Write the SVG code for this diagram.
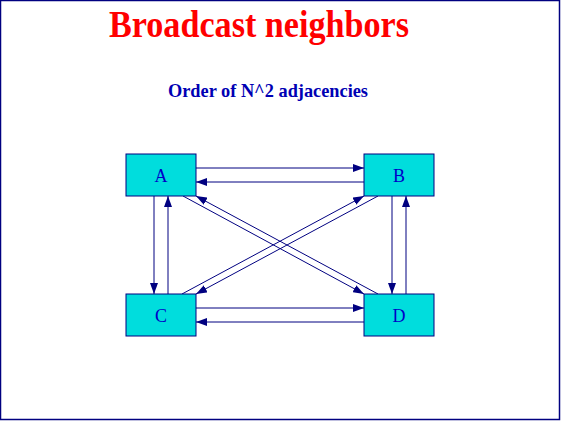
<svg xmlns="http://www.w3.org/2000/svg" width="561" height="421" viewBox="0 0 561 421">
<style>
.node rect{fill:#00dddd;stroke:#000080;stroke-width:1}
.node text{font-family:"Liberation Serif",serif;font-size:18px;fill:#0000c8;text-anchor:middle}
#connectors line{stroke:#000080;stroke-width:1;marker-end:url(#ah)}
</style>
<defs>
<marker id="ah" viewBox="0 0 11 8" refX="11" refY="4" markerWidth="11" markerHeight="8" orient="auto" markerUnits="userSpaceOnUse">
<path d="M0,0 L11,4 L0,8 Z" fill="#000080"/>
</marker>
</defs>
<rect x="0" y="0" width="561" height="421" fill="#ffffff"/>
<rect x="0.5" y="0.5" width="559" height="419" fill="none" stroke="#000080" stroke-width="1.5"/>
<text x="259" y="37" font-family="Liberation Serif,serif" font-weight="bold" font-size="38" fill="#ff0000" text-anchor="middle" textLength="300" lengthAdjust="spacingAndGlyphs">Broadcast neighbors</text>
<text x="268" y="97" font-family="Liberation Serif,serif" font-weight="bold" font-size="19" fill="#0000b4" text-anchor="middle" textLength="200" lengthAdjust="spacingAndGlyphs">Order of N^2 adjacencies</text>
<g id="connectors">
<line x1="196" y1="168" x2="364" y2="168"/>
<line x1="364" y1="182" x2="196" y2="182"/>
<line x1="196" y1="308" x2="364" y2="308"/>
<line x1="364" y1="322" x2="196" y2="322"/>
<line x1="154" y1="196" x2="154" y2="294"/>
<line x1="168" y1="294" x2="168" y2="196"/>
<line x1="392" y1="196" x2="392" y2="294"/>
<line x1="406" y1="294" x2="406" y2="196"/>
<line x1="183" y1="196" x2="364" y2="294"/>
<line x1="378" y1="294" x2="196" y2="196"/>
<line x1="182" y1="294" x2="364" y2="196"/>
<line x1="378" y1="196" x2="196" y2="294"/>
</g>
<g id="A" class="node"><rect x="126" y="154" width="70" height="42"/><text x="161" y="182">A</text></g>
<g id="B" class="node"><rect x="364" y="154" width="70" height="42"/><text x="399" y="182">B</text></g>
<g id="C" class="node"><rect x="126" y="294" width="70" height="42"/><text x="161" y="322">C</text></g>
<g id="D" class="node"><rect x="364" y="294" width="70" height="42"/><text x="399" y="322">D</text></g>
</svg>
